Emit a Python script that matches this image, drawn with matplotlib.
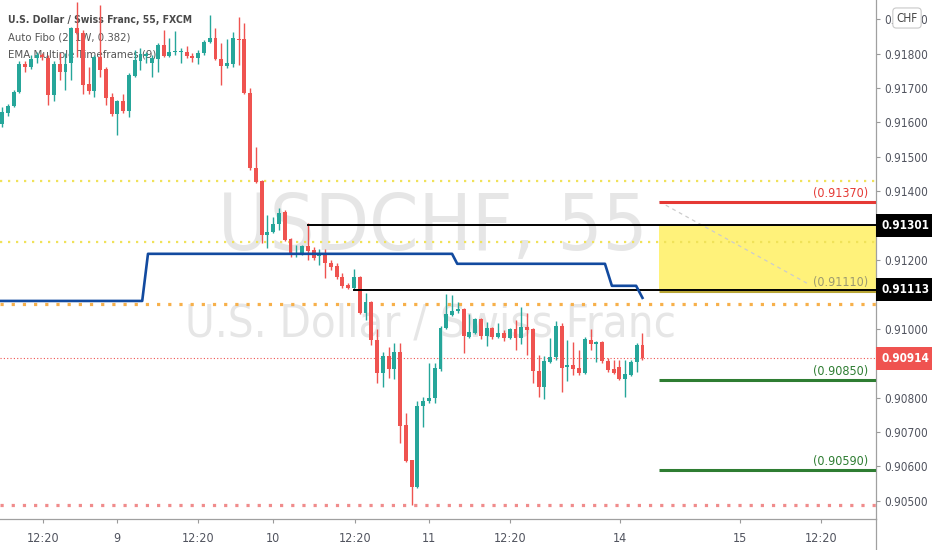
import numpy as np
import matplotlib
matplotlib.use("Agg")
import matplotlib.pyplot as plt
import matplotlib.transforms as mtransforms
from matplotlib import font_manager
from matplotlib.lines import Line2D

# USDCHF 55 min candles (FXCM), oldest first
opens = [0.91596, 0.91627, 0.91648, 0.91689, 0.91770, 0.91761, 0.91787, 0.91796, 0.91787, 0.91680,
         0.91770, 0.91747, 0.91773, 0.91875, 0.91860, 0.91712, 0.91691, 0.91790, 0.91755, 0.91674,
         0.91625, 0.91662, 0.91633, 0.91735, 0.91779, 0.91793, 0.91773, 0.91784, 0.91825, 0.91793,
         0.91805, 0.91805, 0.91805, 0.91793, 0.91787, 0.91802, 0.91834, 0.91846, 0.91784, 0.91764,
         0.91770, 0.91843, 0.91843, 0.91686, 0.91468, 0.91430, 0.91273, 0.91282, 0.91305, 0.91340,
         0.91261, 0.91215, 0.91221, 0.91241, 0.91229, 0.91212, 0.91221, 0.91191, 0.91183, 0.91151,
         0.91127, 0.91119, 0.91151, 0.91046, 0.91078, 0.90968, 0.90872, 0.90921, 0.90883, 0.90933,
         0.90721, 0.90619, 0.90540, 0.90776, 0.90790, 0.90799, 0.90883, 0.91003, 0.91040, 0.91052,
         0.91058, 0.90976, 0.90988, 0.91029, 0.90979, 0.91003, 0.90976, 0.90988, 0.90973, 0.91000,
         0.90973, 0.91006, 0.91000, 0.90878, 0.90831, 0.90904, 0.90918, 0.91009, 0.90889, 0.90895,
         0.90886, 0.90872, 0.90968, 0.90956, 0.90962, 0.90907, 0.90883, 0.90889, 0.90854, 0.90866,
         0.90904, 0.90953]
highs = [0.91645, 0.91654, 0.91694, 0.91779, 0.91779, 0.91796, 0.91805, 0.91802, 0.91796, 0.91779,
         0.91802, 0.91802, 0.91878, 0.91950, 0.91869, 0.91761, 0.91796, 0.91941, 0.91761, 0.91686,
         0.91665, 0.91683, 0.91744, 0.91811, 0.91816, 0.91805, 0.91796, 0.91831, 0.91869, 0.91846,
         0.91866, 0.91816, 0.91822, 0.91802, 0.91811, 0.91840, 0.91912, 0.91875, 0.91831, 0.91843,
         0.91863, 0.91907, 0.91889, 0.91700, 0.91529, 0.91433, 0.91331, 0.91325, 0.91351, 0.91346,
         0.91264, 0.91244, 0.91244, 0.91308, 0.91238, 0.91232, 0.91232, 0.91200, 0.91191, 0.91162,
         0.91133, 0.91174, 0.91154, 0.91104, 0.91081, 0.91000, 0.90933, 0.90947, 0.90959, 0.90959,
         0.90756, 0.90619, 0.90790, 0.90802, 0.90901, 0.90901, 0.91009, 0.91101, 0.91098, 0.91078,
         0.91061, 0.91043, 0.91032, 0.91032, 0.91020, 0.91006, 0.91017, 0.90997, 0.91003, 0.91026,
         0.91064, 0.91046, 0.91003, 0.90924, 0.90921, 0.90973, 0.91023, 0.91017, 0.90968, 0.90962,
         0.90939, 0.90976, 0.91000, 0.90965, 0.90965, 0.90915, 0.90909, 0.90909, 0.90909, 0.90909,
         0.90959, 0.90988]
lows = [0.91587, 0.91619, 0.91645, 0.91686, 0.91747, 0.91755, 0.91773, 0.91782, 0.91651, 0.91662,
        0.91723, 0.91694, 0.91723, 0.91790, 0.91683, 0.91683, 0.91674, 0.91732, 0.91651, 0.91619,
        0.91564, 0.91627, 0.91616, 0.91732, 0.91753, 0.91773, 0.91732, 0.91747, 0.91790, 0.91790,
        0.91796, 0.91773, 0.91787, 0.91776, 0.91770, 0.91796, 0.91831, 0.91782, 0.91709, 0.91758,
        0.91761, 0.91767, 0.91683, 0.91462, 0.91424, 0.91250, 0.91235, 0.91279, 0.91287, 0.91255,
        0.91209, 0.91209, 0.91215, 0.91200, 0.91200, 0.91186, 0.91148, 0.91171, 0.91145, 0.91119,
        0.91116, 0.91116, 0.91043, 0.91026, 0.90953, 0.90843, 0.90831, 0.90857, 0.90854, 0.90668,
        0.90613, 0.90488, 0.90537, 0.90715, 0.90785, 0.90785, 0.90878, 0.91000, 0.91037, 0.91046,
        0.90930, 0.90973, 0.90985, 0.90971, 0.90950, 0.90971, 0.90973, 0.90965, 0.90971, 0.90939,
        0.90956, 0.90924, 0.90843, 0.90802, 0.90796, 0.90901, 0.90909, 0.90817, 0.90848, 0.90866,
        0.90866, 0.90869, 0.90939, 0.90904, 0.90901, 0.90875, 0.90869, 0.90851, 0.90802, 0.90863,
        0.90875, 0.90909]
closes = [0.91630, 0.91648, 0.91689, 0.91770, 0.91761, 0.91784, 0.91796, 0.91790, 0.91680, 0.91770,
          0.91747, 0.91770, 0.91875, 0.91860, 0.91709, 0.91691, 0.91790, 0.91753, 0.91671, 0.91625,
          0.91662, 0.91633, 0.91738, 0.91782, 0.91799, 0.91799, 0.91787, 0.91825, 0.91793, 0.91805,
          0.91806, 0.91806, 0.91793, 0.91787, 0.91802, 0.91834, 0.91846, 0.91784, 0.91764, 0.91773,
          0.91846, 0.91840, 0.91686, 0.91468, 0.91427, 0.91273, 0.91282, 0.91305, 0.91337, 0.91258,
          0.91215, 0.91221, 0.91241, 0.91226, 0.91206, 0.91221, 0.91191, 0.91180, 0.91151, 0.91125,
          0.91119, 0.91151, 0.91046, 0.91078, 0.90968, 0.90872, 0.90921, 0.90883, 0.90933, 0.90718,
          0.90616, 0.90540, 0.90776, 0.90790, 0.90799, 0.90886, 0.91003, 0.91043, 0.91052, 0.91058,
          0.90979, 0.90991, 0.91029, 0.90979, 0.91003, 0.90976, 0.90988, 0.90973, 0.91000, 0.90973,
          0.91006, 0.90997, 0.90878, 0.90831, 0.90907, 0.90918, 0.91009, 0.90886, 0.90895, 0.90883,
          0.90872, 0.90971, 0.90956, 0.90962, 0.90907, 0.90880, 0.90872, 0.90854, 0.90869, 0.90904,
          0.90953, 0.90914]

# EMA Multiple Timeframes (9), bar index / price of the step line
ema_x = [-0.35, 24.3, 25.3, 78.0, 78.9, 104.5, 105.7, 109.9, 111.0]
ema_y = [0.91081, 0.91081, 0.91218, 0.91218, 0.91189, 0.91189, 0.91125, 0.91125, 0.91090]

# Auto Fibo levels on the right
fib_start = 113.9
fib_prices = [0.91370, 0.91110, 0.90850, 0.90590]
fib_labels = ["(0.91370)", "(0.91110)", "(0.90850)", "(0.90590)"]
fib_colors = ["#e53935", "#b8a536", "#2e7d32", "#2e7d32"]
fib_label_colors = ["#e53935", "#9c9a70", "#2e7d32", "#2e7d32"]
fib_zone = [0.91110, 0.91301]
fib_trend_x = [113.9, 140.0]
fib_trend_y = [0.91370, 0.91128]

# black lines from swing points
swing_start = [53, 61]
swing_prices = [0.91301, 0.91113]

# dotted levels
dot_prices = [0.91430, 0.91253, 0.91073, 0.90488]
dot_colors = ["#f0e25a", "#f0e25a", "#f7b04a", "#f08c8c"]

last_price = 0.90914

tick_pos = [7.1, 19.9, 34.0, 47.0, 61.2, 74.0, 88.0, 107.1, 127.9, 141.9]
tick_lab = ["12:20", "9", "12:20", "10", "12:20", "11", "12:20", "14", "15", "12:20"]

names = {f.name for f in font_manager.fontManager.ttflist}
narrow = "Liberation Sans Narrow" if "Liberation Sans Narrow" in names else "DejaVu Sans"
plt.rcParams["font.family"] = narrow
plt.rcParams["font.stretch"] = "condensed"

fig = plt.figure(figsize=(9.32, 5.5), dpi=100)
ax = fig.add_axes([0, 31 / 550, 876 / 932, 519 / 550])

x = np.arange(len(opens))
o = np.array(opens)
c = np.array(closes)
up = c >= o
cols = np.where(up, "#26a69a", "#ef5350")

# watermark
wm1 = ax.text(218 / 876, (519 - 250) / 519, "USDCHF, 55", transform=ax.transAxes,
              ha="left", va="baseline", fontsize=60, color="#e6e6e6", zorder=0.5)
wm2 = ax.text(185 / 876, (519 - 337) / 519, "U.S. Dollar / Swiss Franc", transform=ax.transAxes,
              ha="left", va="baseline", fontsize=30, color="#e6e6e6", zorder=0.5)

# legend lines top left
lg1 = ax.text(8 / 876, (519 - 23) / 519, "U.S. Dollar / Swiss Franc, 55, FXCM", transform=ax.transAxes,
              ha="left", va="baseline", fontsize=10, color="#4a4a4a", fontweight="bold", zorder=1)
lg2 = ax.text(8 / 876, (519 - 40) / 519, "Auto Fibo (2, 1W, 0.382)", transform=ax.transAxes,
              ha="left", va="baseline", fontsize=10, color="#555555", zorder=1)
lg3 = ax.text(8 / 876, (519 - 58) / 519, "EMA Multiple Timeframes (9)", transform=ax.transAxes,
              ha="left", va="baseline", fontsize=10, color="#555555", zorder=1)

xmax = (876 - 2) / 5.77
xmin = -2 / 5.77

# dotted levels
for p, col in zip(dot_prices, dot_colors):
    if col == "#f0e25a":
        ax.axhline(p, color=col, lw=1.6, ls=(0, (1, 2.6)), zorder=1.5)
    else:
        ax.axhline(p, color=col, lw=2.3, ls=(0, (1, 2.5)), zorder=1.5)

ax.axhline(last_price, color="#ef5350", lw=0.8, ls=(0, (1, 2)), zorder=1.5)

# fib zone and levels
ax.fill_between([fib_start, xmax], fib_zone[0], fib_zone[1], color="#fff27a", lw=0, zorder=1)
ax.plot(fib_trend_x, fib_trend_y, color="#cccccc", lw=0.9, ls=(0, (3, 3)), zorder=1.6)
blend = mtransforms.blended_transform_factory(ax.transAxes, ax.transData)
for p, lab, col, lcol in zip(fib_prices, fib_labels, fib_colors, fib_label_colors):
    ax.plot([fib_start, xmax], [p, p], color=col, lw=2.2, solid_capstyle="butt", zorder=3)
    ax.annotate(lab, xy=(1, p), xycoords=blend, xytext=(-8, 2), textcoords="offset pixels",
                ha="right", va="bottom", fontsize=9, color=lcol, zorder=3)

# candles
ax.vlines(x, lows, highs, colors=cols, lw=1.0, zorder=3.5)
ax.bar(x, np.maximum(np.abs(c - o), 0.00003), bottom=np.minimum(o, c), width=0.68,
       color=cols, lw=0, zorder=4)

# swing lines
for s, p in zip(swing_start, swing_prices):
    ax.plot([s, xmax], [p, p], color="black", lw=1.4, zorder=5)

# ema
ax.plot(ema_x, ema_y, color="#124a9f", lw=1.9, zorder=5)

ax.set_xlim(xmin, xmax)
ax.set_ylim(0.90447, 0.91956)

# price tags on the scale
tags = [(0.91301, "black"), (0.91113, "black"), (last_price, "#ef5350")]


def price_fmt(v, pos):
    # labels under a price tag are hidden on the scale
    for p, col in tags:
        if abs(v - p) < 0.0003:
            return ""
    return "%.5f" % v


ax.yaxis.tick_right()
ax.set_yticks(np.arange(0.905, 0.91905, 0.001))
ax.yaxis.set_major_formatter(matplotlib.ticker.FuncFormatter(price_fmt))
ax.set_xticks(tick_pos)
ax.set_xticklabels(tick_lab)
ax.tick_params(axis="y", length=3, width=0.8, color="#9a9a9a", labelcolor="#50535e",
               labelsize=8.5, pad=3)
ax.tick_params(axis="x", length=3, width=0.8, color="#9a9a9a", labelcolor="#50535e",
               labelsize=9, pad=6)
for side in ["top", "left"]:
    ax.spines[side].set_visible(False)
for side in ["bottom", "right"]:
    ax.spines[side].set_color("#a0a0a0")
    ax.spines[side].set_linewidth(0.9)
fig.add_artist(Line2D([876 / 932, 876 / 932], [0, 31 / 550], color="#a0a0a0", lw=0.9))

for p, col in tags:
    ax.text(1 + 5 / 876, p, "%.5f" % p, transform=blend, ha="left", va="center",
            fontsize=8.5, fontweight="bold", color="white", clip_on=False, zorder=10,
            bbox=dict(boxstyle="square,pad=0.42", fc=col, ec="none"))

fig.text(907 / 932, 1 - 18 / 550, "CHF", ha="center", va="center", fontsize=8.5, color="#444444",
         zorder=20, bbox=dict(boxstyle="round,pad=0.3", fc="white", ec="#c8c8c8", lw=0.8))


def fit_width(t, width_px):
    fig.canvas.draw()
    w = t.get_window_extent().width
    t.set_fontsize(t.get_fontsize() * width_px / w)


fit_width(wm1, 430)
fit_width(wm2, 490)
fit_width(lg1, 184)
fit_width(lg2, 123)
fit_width(lg3, 148)

fig.savefig("out.png", dpi=100, facecolor="white")
